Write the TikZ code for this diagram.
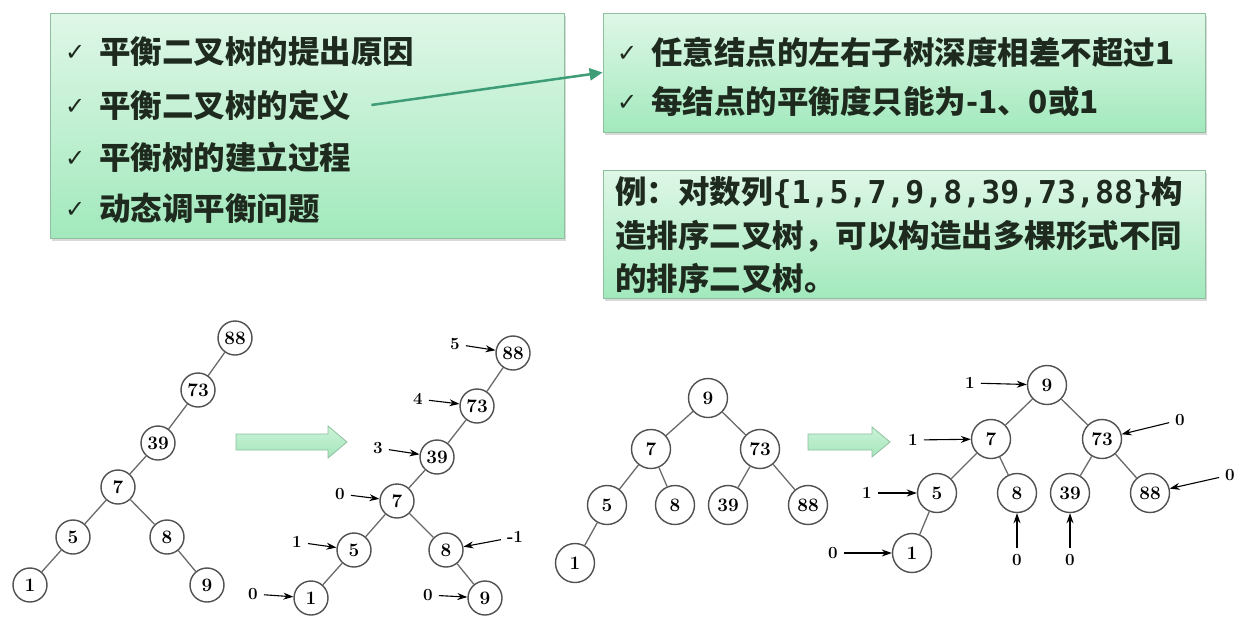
\documentclass[tikz,border=0pt]{standalone}
\usepackage{fontspec}
\newfontfamily\cjk{Noto Sans CJK SC}
\newfontfamily\sym{DejaVu Sans}
\newfontfamily\mono{DejaVu Sans Mono}
\usetikzlibrary{arrows.meta, shadows}

\definecolor{boxtop}{HTML}{DFF7E7}
\definecolor{boxbot}{HTML}{A2E9BD}
\definecolor{boxline}{HTML}{8FBF9F}
\definecolor{linkgreen}{HTML}{3E9C76}
\definecolor{fattop}{HTML}{CBF4D8}
\definecolor{fatbot}{HTML}{A4E5BA}
\definecolor{ring}{HTML}{505050}
\definecolor{txt}{HTML}{1E2A1E}

\newcommand{\chkmark}{\makebox[34pt][l]{\raisebox{3pt}{\sym\mdseries\fontsize{24}{24}\selectfont ✓}}}

\begin{document}
\begin{tikzpicture}[x=1pt, y=-1pt,
    box/.style={draw=boxline, line width=0.8pt, top color=boxtop, bottom color=boxbot,
                drop shadow={opacity=0.3, shadow xshift=2pt, shadow yshift=-3pt}},
    line/.style={anchor=west, inner sep=0pt, text=txt,
                 font=\cjk\bfseries\fontsize{31.5}{31.5}\selectfont},
    link/.style={draw=linkgreen, line width=2.5pt, -{Triangle[length=13pt, width=12pt]}},
    fat/.style={draw=boxline, line width=0.8pt, top color=fattop, bottom color=fatbot},
    vs/.style={circle, draw=ring, line width=1.4pt, fill=white, inner sep=0pt,
               minimum size=34pt, font=\bfseries\fontsize{19}{19}\selectfont},
    vl/.style={vs, minimum size=39pt},
    edge/.style={draw=ring!85, line width=1.3pt},
    num/.style={inner sep=4pt, font=\bfseries\fontsize{17}{17}\selectfont},
    bal/.style={-{Stealth[length=10pt, width=7pt]}, line width=1.1pt, shorten <=2pt}
]
    \useasboundingbox (0,0) rectangle (1240,622);

    % --- Boxes ---
    \node[box, minimum width=514pt, minimum height=225pt] (box1) at (307,125.5) {};
    \node[box, minimum width=602pt, minimum height=119pt] (box2) at (904,72.5) {};
    \node[box, minimum width=602pt, minimum height=128pt] (box3) at (904,234) {};

    \node[line] (t11) at (65,52)  {\chkmark 平衡二叉树的提出原因};
    \node[line] (t12) at (65,105) {\chkmark 平衡二叉树的定义};
    \node[line] (t13) at (65,157) {\chkmark 平衡树的建立过程};
    \node[line] (t14) at (65,208) {\chkmark 动态调平衡问题};

    \node[line] (t21) at (617,52)  {\chkmark 任意结点的左右子树深度相差不超过1};
    \node[line] (t22) at (617,102) {\chkmark 每结点的平衡度只能为-1、0或1};

    \node[line] (e1) at (615,193) {例：对数列{\mono\{1,5,7,9,8,39,73,88\}}构};
    \node[line] (e2) at (615,236) {造排序二叉树，可以构造出多棵形式不同};
    \node[line] (e3) at (615,278) {的排序二叉树。};

    \draw[link] ([xshift=20pt]t12.east) -- (box2.west);

    % --- Big arrows ---
    \draw[fat] (236,434) -- (328,434) -- (328,426) -- (347,442) -- (328,458)
        -- (328,450) -- (236,450) -- cycle;
    \draw[fat] (808,434) -- (872,434) -- (872,427) -- (890,442) -- (872,457)
        -- (872,450) -- (808,450) -- cycle;

    % --- Tree 1 ---
    \node[vs] (a88) at (235,338) {88};
    \node[vs] (a73) at (198,390) {73};
    \node[vs] (a39) at (158,443) {39};
    \node[vs] (a7)  at (118,487) {7};
    \node[vs] (a5)  at (73,537)  {5};
    \node[vs] (a8)  at (167,537) {8};
    \node[vs] (a1)  at (30,585)  {1};
    \node[vs] (a9)  at (207,585) {9};
    \draw[edge] (a88) -- (a73) (a73) -- (a39) (a39) -- (a7) (a7) -- (a5)
        (a7) -- (a8) (a5) -- (a1) (a8) -- (a9);

    % --- Tree 2 ---
    \node[vs] (b88) at (513,353) {88};
    \node[vs] (b73) at (477,406) {73};
    \node[vs] (b39) at (437,457) {39};
    \node[vs] (b7)  at (397,501) {7};
    \node[vs] (b5)  at (354,550) {5};
    \node[vs] (b8)  at (446,550) {8};
    \node[vs] (b1)  at (311,598) {1};
    \node[vs] (b9)  at (485,598) {9};
    \draw[edge] (b88) -- (b73) (b73) -- (b39) (b39) -- (b7) (b7) -- (b5)
        (b7) -- (b8) (b5) -- (b1) (b8) -- (b9);

    \node[num] (lb88) at (455,344) {5};
    \node[num] (lb73) at (418,399) {4};
    \node[num] (lb39) at (378,448) {3};
    \node[num] (lb7)  at (340,494) {0};
    \node[num] (lb5)  at (297,542) {1};
    \node[num] (lb8)  at (515,537) {-1};
    \node[num] (lb1)  at (253,594) {0};
    \node[num] (lb9)  at (428,595) {0};
    \draw[bal] (lb88) -- (b88);
    \draw[bal] (lb73) -- (b73);
    \draw[bal] (lb39) -- (b39);
    \draw[bal] (lb7)  -- (b7);
    \draw[bal] (lb5)  -- (b5);
    \draw[bal] (lb8)  -- (b8);
    \draw[bal] (lb1)  -- (b1);
    \draw[bal] (lb9)  -- (b9);

    % --- Tree 3 ---
    \node[vl] (c9)  at (708,398) {9};
    \node[vl] (c7)  at (651,449) {7};
    \node[vl] (c73) at (760,449) {73};
    \node[vl] (c5)  at (607,505) {5};
    \node[vl] (c8)  at (675,505) {8};
    \node[vl] (c39) at (728,505) {39};
    \node[vl] (c88) at (808,505) {88};
    \node[vl] (c1)  at (575,563) {1};
    \draw[edge] (c9) -- (c7) (c9) -- (c73) (c7) -- (c5) (c7) -- (c8)
        (c73) -- (c39) (c73) -- (c88) (c5) -- (c1);

    % --- Tree 4 ---
    \node[vl] (d9)  at (1047,385) {9};
    \node[vl] (d7)  at (991,439)  {7};
    \node[vl] (d73) at (1102,439) {73};
    \node[vl] (d5)  at (937,493)  {5};
    \node[vl] (d8)  at (1017,493) {8};
    \node[vl] (d39) at (1070,493) {39};
    \node[vl] (d88) at (1150,493) {88};
    \node[vl] (d1)  at (912,553)  {1};
    \draw[edge] (d9) -- (d7) (d9) -- (d73) (d7) -- (d5) (d7) -- (d8)
        (d73) -- (d39) (d73) -- (d88) (d5) -- (d1);

    \node[num] (ld9)  at (970,383)  {1};
    \node[num] (ld7)  at (913,440)  {1};
    \node[num] (ld73) at (1180,420) {0};
    \node[num] (ld5)  at (867,493)  {1};
    \node[num] (ld8)  at (1017,560) {0};
    \node[num] (ld39) at (1070,560) {0};
    \node[num] (ld88) at (1230,475) {0};
    \node[num] (ld1)  at (833,553)  {0};
    \draw[bal] (ld9)  -- (d9);
    \draw[bal] (ld7)  -- (d7);
    \draw[bal] (ld73) -- (d73);
    \draw[bal] (ld5)  -- (d5);
    \draw[bal] (ld8)  -- (d8);
    \draw[bal] (ld39) -- (d39);
    \draw[bal] (ld88) -- (d88);
    \draw[bal] (ld1)  -- (d1);
\end{tikzpicture}
\end{document}
